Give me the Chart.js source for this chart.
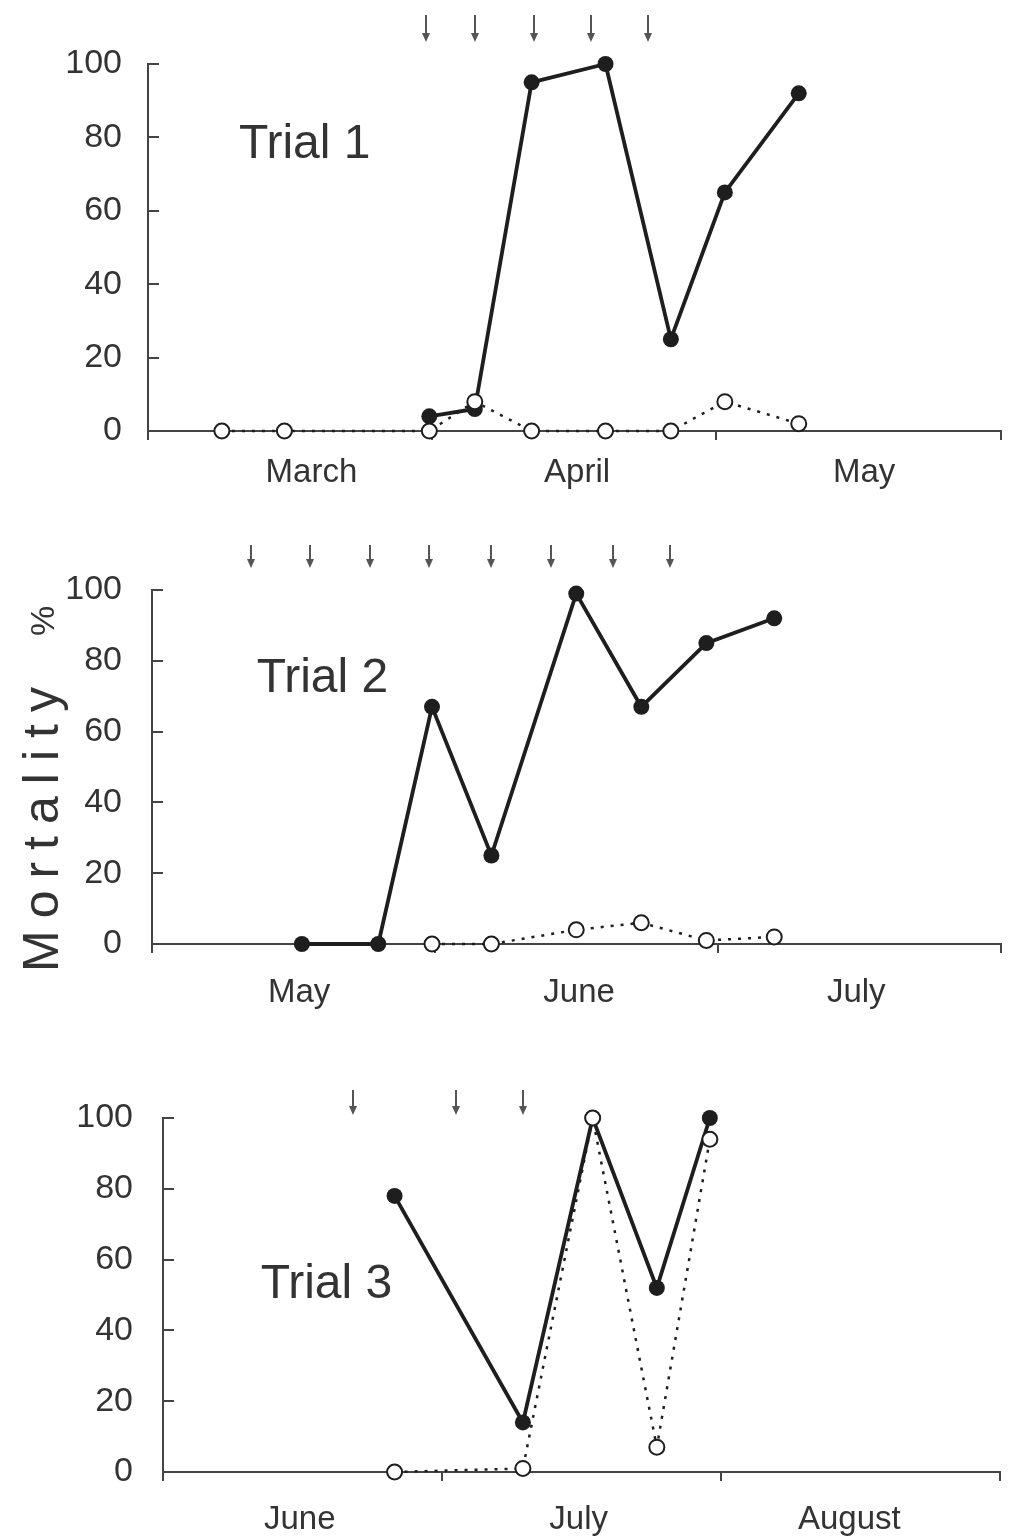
<!DOCTYPE html>
<html lang="en">
<head>
<meta charset="UTF-8">
<title>Mortality – Trials 1 to 3</title>
<script src="https://cdn.jsdelivr.net/npm/chart.js"></script>
<style>
  html, body { margin: 0; padding: 0; background: #fff; }
  #wrap { position: relative; width: 1010px; height: 1537px; }
  #wrap canvas { position: absolute; left: 0; }
</style>
</head>
<body>
<div id="wrap">
  <canvas id="trial1" width="1010" height="500" style="top:0"></canvas>
  <canvas id="trial2" width="1010" height="530" style="top:500px"></canvas>
  <canvas id="trial3" width="1010" height="507" style="top:1030px"></canvas>
</div>
<script>
// x values are months counted from the start of each panel's first month
const t1Months  = ['March', 'April', 'May'];
const t1MonthAt = [0.575, 1.51, 2.52];
const t1Dates   = [0.26, 0.48, 0.99, 1.15, 1.35, 1.61, 1.84, 2.03, 2.29];
const t1Filled  = [null, null, 4, 6, 95, 100, 25, 65, 92];
const t1Open    = [0, 0, 0, 8, 0, 0, 0, 8, 2];
const t1Arrows  = [0.98, 1.15, 1.36, 1.56, 1.76];

const t2Months  = ['May', 'June', 'July'];
const t2MonthAt = [0.52, 1.51, 2.49];
const t2Dates   = [0.53, 0.80, 0.99, 1.20, 1.50, 1.73, 1.96, 2.20];
const t2Filled  = [0, 0, 67, 25, 99, 67, 85, 92];
const t2Open    = [null, null, 0, 0, 4, 6, 1, 2];
const t2Arrows  = [0.35, 0.56, 0.77, 0.98, 1.20, 1.41, 1.63, 1.83];

const t3Months  = ['June', 'July', 'August'];
const t3MonthAt = [0.49, 1.49, 2.46];
const t3Dates   = [0.83, 1.29, 1.54, 1.77, 1.96];
const t3Filled  = [78, 14, 100, 52, 100];
const t3Open    = [0, 1, 100, 7, 94];
const t3Arrows  = [0.68, 1.05, 1.29];

const yTicks = [0, 20, 40, 60, 80, 100];

const INK = '#1e1e1e';
const AXIS = '#444';
const TEXT = '#333';
const SANS = "'Liberation Sans', Arial, sans-serif";

// arrows above the plot, inward y ticks, trial caption, optional y title
const panelMarks = {
  id: 'panelMarks',
  afterDraw(chart, args, opts) {
    const { ctx, chartArea: area, scales: { x, y } } = chart;
    ctx.save();

    ctx.strokeStyle = AXIS;
    ctx.lineWidth = 2;
    y.ticks.forEach(t => {
      if (t.value === 0) return;
      const py = Math.round(y.getPixelForValue(t.value));
      ctx.beginPath();
      ctx.moveTo(area.left, py);
      ctx.lineTo(area.left + 11, py);
      ctx.stroke();
    });

    ctx.strokeStyle = '#555';
    ctx.fillStyle = '#555';
    ctx.lineWidth = 2;
    opts.arrows.forEach(v => {
      const px = Math.round(x.getPixelForValue(v));
      const top = area.top + opts.arrowTop;
      const bot = area.top + opts.arrowBottom;
      ctx.beginPath();
      ctx.moveTo(px, top);
      ctx.lineTo(px, bot - 4);
      ctx.stroke();
      ctx.beginPath();
      ctx.moveTo(px - 4, bot - 9);
      ctx.lineTo(px, bot);
      ctx.lineTo(px + 4, bot - 9);
      ctx.closePath();
      ctx.fill();
    });

    ctx.fillStyle = TEXT;
    ctx.font = '48px ' + SANS;
    ctx.textAlign = 'left';
    ctx.textBaseline = 'middle';
    ctx.fillText(opts.caption.text, x.getPixelForValue(opts.caption.x), y.getPixelForValue(opts.caption.y));

    if (opts.title) {
      const t = opts.title;
      ctx.save();
      ctx.translate(t.left, t.bottom);
      ctx.rotate(-Math.PI / 2);
      ctx.textBaseline = 'alphabetic';
      ctx.font = '50px ' + SANS;
      ctx.letterSpacing = '12px';
      ctx.fillText(t.text, 0, 0);
      ctx.letterSpacing = '0px';
      ctx.font = '34px ' + SANS;
      ctx.fillText(t.unit, t.unitAt, -4);
      ctx.restore();
    }
    ctx.restore();
  }
};

function makePanel(id, p) {
  const pts = vals => p.dates.map((d, i) => ({ x: d, y: vals[i] }));
  return new Chart(document.getElementById(id), {
    type: 'line',
    data: {
      datasets: [
        {
          data: pts(p.open),
          borderColor: INK,
          borderWidth: 2.5,
          borderDash: [3, 7],
          pointRadius: 7.5,
          pointBackgroundColor: '#fff',
          pointBorderColor: INK,
          pointBorderWidth: 2,
          clip: false
        },
        {
          data: pts(p.filled),
          borderColor: INK,
          borderWidth: 3.8,
          pointRadius: 8,
          pointBackgroundColor: INK,
          pointBorderColor: INK,
          pointBorderWidth: 0,
          clip: false
        }
      ]
    },
    options: {
      responsive: false,
      animation: false,
      events: [],
      layout: { padding: { top: p.padTop, right: p.padRight, left: 0, bottom: 0 } },
      plugins: {
        legend: { display: false },
        tooltip: { enabled: false },
        panelMarks: p.marks
      },
      scales: {
        x: {
          type: 'linear',
          position: 'bottom',
          weight: 0,
          min: 0,
          max: p.months.length,
          ticks: { display: false, stepSize: 1 },
          grid: { drawOnChartArea: false, drawTicks: true, tickLength: 9, color: AXIS, lineWidth: 2 },
          border: { color: AXIS, width: 2 },
          afterFit: s => { s.height = 10; }
        },
        month: {
          type: 'linear',
          position: 'bottom',
          weight: 1,
          min: 0,
          max: p.months.length,
          afterBuildTicks: s => { s.ticks = p.monthAt.map(v => ({ value: v })); },
          grid: { display: false, drawTicks: false },
          border: { display: false },
          ticks: {
            color: TEXT,
            font: { family: SANS, size: 33 },
            padding: p.monthPad,
            maxRotation: 0,
            autoSkip: false,
            callback: (v, i) => p.months[i]
          },
          afterFit: s => { s.height = p.monthHeight; }
        },
        y: {
          min: 0,
          max: 100,
          afterBuildTicks: s => { s.ticks = yTicks.map(v => ({ value: v })); },
          ticks: { color: TEXT, font: { family: SANS, size: 34 }, padding: p.tickPad },
          grid: { drawOnChartArea: false, drawTicks: false },
          border: { color: AXIS, width: 2 },
          afterFit: s => { s.width = p.yWidth; }
        }
      }
    },
    plugins: [panelMarks]
  });
}

makePanel('trial1', {
  months: t1Months, monthAt: t1MonthAt, dates: t1Dates, filled: t1Filled, open: t1Open,
  padTop: 64, padRight: 7, yWidth: 148, tickPad: 26, monthPad: 12, monthHeight: 59,
  marks: { arrows: t1Arrows, arrowTop: -49, arrowBottom: -22, caption: { text: 'Trial 1', x: 0.32, y: 78 } }
});

makePanel('trial2', {
  months: t2Months, monthAt: t2MonthAt, dates: t2Dates, filled: t2Filled, open: t2Open,
  padTop: 90, padRight: 5, yWidth: 152, tickPad: 30, monthPad: 19, monthHeight: 76,
  marks: {
    arrows: t2Arrows, arrowTop: -45, arrowBottom: -22, caption: { text: 'Trial 2', x: 0.37, y: 75 },
    title: { text: 'Mortality', unit: '%', left: 58, bottom: 472, unitAt: 336 }
  }
});

makePanel('trial3', {
  months: t3Months, monthAt: t3MonthAt, dates: t3Dates, filled: t3Filled, open: t3Open,
  padTop: 88, padRight: 10, yWidth: 163, tickPad: 30, monthPad: 18, monthHeight: 55,
  marks: { arrows: t3Arrows, arrowTop: -28, arrowBottom: -3, caption: { text: 'Trial 3', x: 0.35, y: 53 } }
});
</script>
</body>
</html>
